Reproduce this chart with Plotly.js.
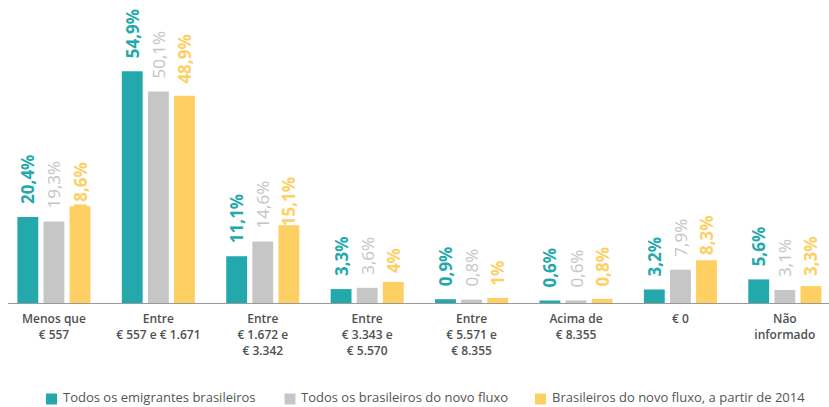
<!DOCTYPE html>
<html>
<head>
<meta charset="utf-8">
<script src="https://cdn.plot.ly/plotly-3.0.1.min.js"></script>
<style>
html, body { margin: 0; padding: 0; background: #ffffff; }
#chart { width: 829px; height: 407px; }
</style>
</head>
<body>
<div id="chart"></div>
<script>
// Categories (tick labels)
const categorias = [
  "Menos que<br>€ 557",
  "Entre<br>€ 557 e € 1.671",
  "Entre<br>€ 1.672 e<br>€ 3.342",
  "Entre<br>€ 3.343 e<br>€ 5.570",
  "Entre<br>€ 5.571 e<br>€ 8.355",
  "Acima de<br>€ 8.355",
  "€ 0",
  "Não<br>informado"
];

const nomesSeries = [
  "Todos os emigrantes brasileiros",
  "Todos os brasileiros do novo fluxo",
  "Brasileiros do novo fluxo, a partir de 2014"
];

// Printed values (labels)
const todosEmigrantes   = [20.4, 54.9, 11.1, 3.3, 0.9, 0.6, 3.2, 5.6];
const novoFluxo         = [19.3, 50.1, 14.6, 3.6, 0.8, 0.6, 7.9, 3.1];
const novoFluxo2014     = [18.6, 48.9, 15.1, 4, 1, 0.8, 8.3, 3.3];
// Bar heights of the third series as drawn in the picture
const novoFluxo2014Barras = [22.9, 49.1, 18.4, 5.0, 1.2, 1.0, 10.1, 4.0];

const cores = ["#23a9ab", "#c6c6c6", "#fecf63"];
const coresTexto = ["#23a9ab", "#c4c4c4", "#fecf63"];
const pesosTexto = ["bold", "normal", "bold"];

const LABEL_GAP = 2.37; // gap between bar end and its label, in axis units

function fmt(v) { return String(v).replace(".", ",") + "%"; }

const rotulos = [todosEmigrantes, novoFluxo, novoFluxo2014];
const alturas = [todosEmigrantes, novoFluxo, novoFluxo2014Barras];
const grupos = ["a", "b", "c"];

const traces = [];
// label traces (drawn first so bars sit on top)
for (let i = 0; i < 3; i++) {
  traces.push({
    type: "bar",
    x: categorias,
    y: categorias.map(() => LABEL_GAP),
    base: rotulos[i],
    offsetgroup: grupos[i],
    marker: { color: "rgba(0,0,0,0)" },
    text: rotulos[i].map(fmt),
    textposition: "outside",
    textangle: -90,
    constraintext: "none",
    cliponaxis: false,
    outsidetextfont: { family: "Open Sans, sans-serif", size: 17, color: coresTexto[i], weight: pesosTexto[i] },
    hoverinfo: "skip",
    showlegend: false
  });
}
for (let i = 0; i < 3; i++) {
  traces.push({
    type: "bar",
    name: nomesSeries[i],
    x: categorias,
    y: alturas[i],
    offsetgroup: grupos[i],
    marker: { color: cores[i], line: { width: 0 } },
    cliponaxis: false,
    showlegend: false
  });
}

// Manual legend (plot area: left 8px, width 821px, top 8px, height 295px)
const M = { l: 8, r: 0, t: 8, b: 104 };
const W = 829, H = 407;
const PW = W - M.l - M.r, PH = H - M.t - M.b;
const px = (x) => (x - M.l) / PW;
const py = (y) => (H - M.b - y) / PH;
const legendaX = [46, 284.5, 535];
const legendaYQuadrado = 399;
const legendaYTexto = 397;

const shapes = [];
const annotations = [];
for (let i = 0; i < 3; i++) {
  shapes.push({
    type: "rect", xref: "paper", yref: "paper",
    x0: px(legendaX[i]), x1: px(legendaX[i] + 11),
    y0: py(legendaYQuadrado + 5.5), y1: py(legendaYQuadrado - 5.5),
    fillcolor: cores[i], line: { width: 0 }
  });
  annotations.push({
    xref: "paper", yref: "paper",
    x: px(legendaX[i] + 15.5), y: py(legendaYTexto),
    xanchor: "left", yanchor: "middle",
    text: nomesSeries[i], showarrow: false, borderpad: 0,
    font: { family: "Open Sans, sans-serif", size: 13, color: "#555555" }
  });
}

const layout = {
  width: W,
  height: H,
  margin: { l: M.l, r: M.r, t: M.t, b: M.b, pad: 0 },
  paper_bgcolor: "#ffffff",
  plot_bgcolor: "#ffffff",
  barmode: "group",
  bargap: 0.25,
  bargroupgap: 0.2,
  showlegend: false,
  shapes: shapes,
  annotations: annotations,
  xaxis: {
    type: "category",
    range: [-0.44, 7.423],
    showline: true,
    linecolor: "#9a9a9a",
    linewidth: 1,
    showgrid: false,
    zeroline: false,
    ticks: "",
    ticklabelstandoff: 5,
    tickfont: { family: "Open Sans, sans-serif", size: 12, color: "#505050", weight: 600 },
    fixedrange: true
  },
  yaxis: {
    range: [0, 69.9],
    visible: false,
    showgrid: false,
    zeroline: false,
    fixedrange: true
  }
};

Plotly.newPlot("chart", traces, layout, { displayModeBar: false, staticPlot: true });
</script>
</body>
</html>
